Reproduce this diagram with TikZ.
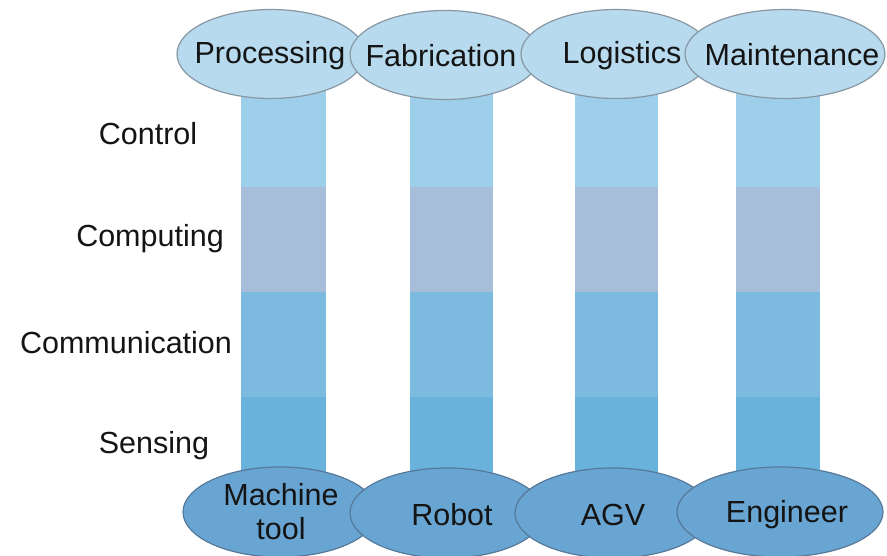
\documentclass[tikz,border=0pt]{standalone}
\usepackage{fontspec}
\setmainfont{Liberation Sans}
\usetikzlibrary{shapes.geometric}
\definecolor{ctrlband}{HTML}{9DCFEA}
\definecolor{compband}{HTML}{A6BEDA}
\definecolor{commband}{HTML}{7DBADF}
\definecolor{sensband}{HTML}{69B2DC}
\definecolor{topfill}{HTML}{B7DAEE}
\definecolor{topedge}{HTML}{8797A4}
\definecolor{botfill}{HTML}{69A5D2}
\definecolor{botedge}{HTML}{56799A}
\tikzset{
  txt/.style={font=\fontsize{30.5}{34}\selectfont, text=black!92, inner sep=0pt, align=center},
  topell/.style={ellipse, draw=topedge, line width=1.2pt, fill=topfill,
    minimum width=190pt, minimum height=89pt, inner sep=0pt},
  botell/.style={ellipse, draw=botedge, line width=1.2pt, fill=botfill,
    minimum width=196pt, minimum height=90pt, inner sep=0pt}
}
\begin{document}
\begin{tikzpicture}[x=1pt, y=-1pt]
  \useasboundingbox (0,0) rectangle (887,556);
  \fill[white] (0,0) rectangle (887,556);
  % layered columns
  \foreach \l/\r in {241/326, 410/493, 575/658, 736/820} {
    \fill[ctrlband] (\l,70) rectangle (\r,187);
    \fill[compband] (\l,187) rectangle (\r,292);
    \fill[commband] (\l,292) rectangle (\r,397);
    \fill[sensband] (\l,397) rectangle (\r,500);
  }
  % layer labels
  \node[txt] (control) at (148,134) {Control};
  \node[txt] (computing) at (150,239) {Computing};
  \node[txt] (communication) at (126,343) {Communication};
  \node[txt] (sensing) at (154,446) {Sensing};
  % application domains (shapes)
  \node[topell, minimum width=188pt] (processing) at (271,54) {};
  \node[topell] (fabrication) at (445,55) {};
  \node[topell] (logistics) at (616,54) {};
  \node[topell, minimum width=200pt] (maintenance) at (785,54) {};
  % physical entities (shapes)
  \node[botell, minimum width=194pt] (machine) at (280,512) {};
  \node[botell, minimum width=194pt] (robot) at (447,513) {};
  \node[botell] (agv) at (613,513) {};
  \node[botell, minimum width=206pt] (engineer) at (780,512) {};
  % names
  \node[txt] (processingtxt) at ([xshift=-1pt,yshift=-2pt]processing) {Processing};
  \node[txt] (fabricationtxt) at ([xshift=-4pt,yshift=-1pt]fabrication) {Fabrication};
  \node[txt] (logisticstxt) at ([xshift=6pt,yshift=-2pt]logistics) {Logistics};
  \node[txt] (maintenancetxt) at ([xshift=7pt,yshift=-1pt]maintenance) {Maintenance};
  \node[txt] (machinetxt) at ([xshift=1pt]machine) {Machine\\tool};
  \node[txt] (robottxt) at ([xshift=5pt,yshift=-2pt]robot) {Robot};
  \node[txt] (agvtxt) at ([yshift=-2pt]agv) {AGV};
  \node[txt] (engineertxt) at ([xshift=7pt,yshift=-3pt]engineer) {Engineer};
\end{tikzpicture}
\end{document}
